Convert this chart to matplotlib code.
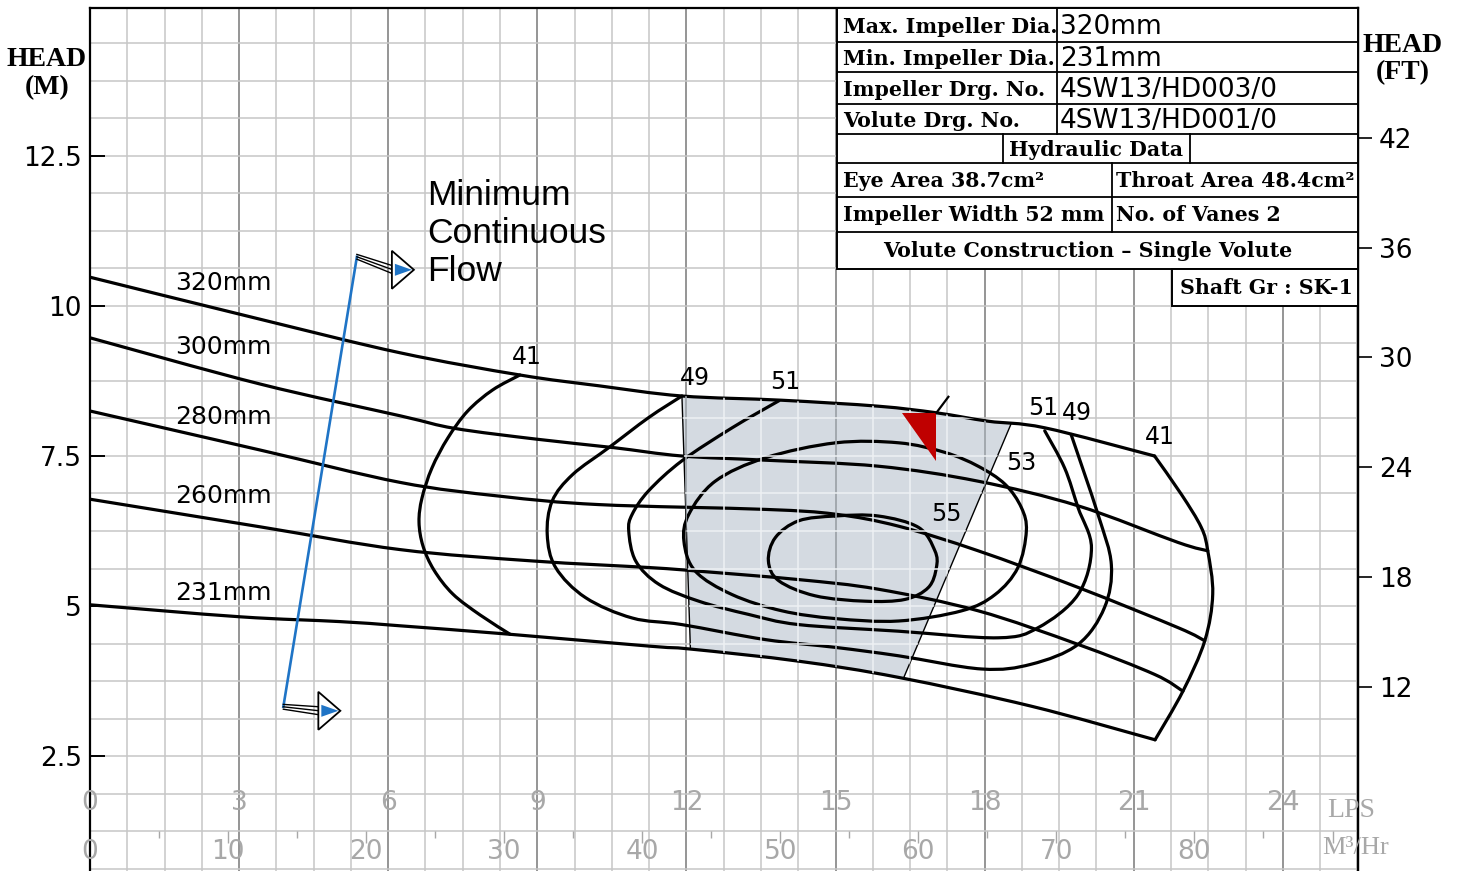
import numpy as np
import matplotlib.pyplot as plt
from matplotlib.path import Path
from matplotlib.patches import PathPatch, Polygon, Rectangle
from matplotlib.lines import Line2D

# impeller curves, flow in LPS vs head in m
q320 = [0, 3.42, 6.24, 8.65, 10.24, 11.91, 13.91, 15.86, 17.03, 18.07, 19.21, 21.42]
h320 = [10.48, 9.78, 9.22, 8.85, 8.67, 8.5, 8.43, 8.33, 8.22, 8.08, 7.97, 7.5]
q300 = [0, 3.42, 6.24, 7.34, 8.99, 10.53, 11.91, 13.59, 15.86, 17.87, 19.88, 21.89, 22.49]
h300 = [9.47, 8.7, 8.17, 7.96, 7.78, 7.64, 7.5, 7.43, 7.33, 7.08, 6.67, 6.06, 5.92]
q280 = [0, 3.42, 6.24, 8.25, 10.24, 13.59, 15.0, 16.27, 17.87, 19.88, 21.89, 22.43]
h280 = [8.25, 7.6, 7.06, 6.83, 6.69, 6.61, 6.53, 6.33, 5.92, 5.31, 4.64, 4.42]
q260 = [0, 3.42, 6.24, 8.92, 11.27, 12.25, 14.26, 15.86, 17.87, 19.88, 21.42, 21.99]
h260 = [6.78, 6.32, 5.94, 5.75, 5.64, 5.58, 5.44, 5.28, 4.92, 4.36, 3.86, 3.58]
q231 = [0, 3.02, 5.03, 6.24, 8.43, 11.27, 12.11, 14.26, 16.27, 18.94, 21.43]
h231 = [5.02, 4.82, 4.74, 4.67, 4.53, 4.33, 4.28, 4.08, 3.81, 3.33, 2.77]
impeller_names = ["320mm", "300mm", "280mm", "260mm", "231mm"]
impeller_label_h = [10.38, 9.32, 8.15, 6.83, 5.22]

# iso-efficiency lines (%)
e41l_q = [8.65, 8.1, 7.6, 7.2, 6.88, 6.68, 6.62, 6.7, 6.92, 7.3, 7.85, 8.45]
e41l_h = [8.85, 8.6, 8.25, 7.8, 7.3, 6.8, 6.4, 6.0, 5.6, 5.2, 4.85, 4.53]
e41r_q = [21.42, 21.96, 22.36, 22.49, 22.59, 22.43, 21.99, 21.43]
e41r_h = [7.5, 6.86, 6.31, 5.92, 5.2, 4.42, 3.58, 2.77]
e49_q = [11.91, 11.24, 10.44, 9.71, 9.3, 9.2, 9.37, 9.97, 10.91, 11.91, 13.59, 15.0,
         16.27, 17.94, 18.94, 19.88, 20.41, 20.55, 20.28, 19.74]
e49_h = [8.5, 8.14, 7.64, 7.19, 6.75, 6.19, 5.64, 5.14, 4.8, 4.69, 4.44, 4.31,
         4.17, 3.95, 4.03, 4.36, 4.97, 5.69, 6.53, 7.86]
e51_q = [13.86, 12.92, 11.91, 11.24, 10.91, 10.84, 10.98, 11.45, 12.25, 13.25, 14.26,
         16.27, 18.27, 19.08, 19.88, 20.15, 19.88, 19.61, 19.21]
e51_h = [8.42, 7.97, 7.42, 6.92, 6.53, 6.25, 5.75, 5.36, 5.08, 4.86, 4.69,
         4.58, 4.47, 4.64, 5.19, 5.97, 6.64, 7.3, 7.92]
e53_q = [15.01, 13.59, 12.58, 12.05, 11.95, 12.18, 12.92, 13.92, 15.0, 16.27, 17.54,
         18.21, 18.67, 18.84, 18.74, 18.41, 17.87, 17.2, 16.27, 15.01]
e53_h = [7.72, 7.47, 7.08, 6.53, 6.08, 5.58, 5.19, 4.92, 4.79, 4.75, 4.92,
         5.19, 5.64, 6.25, 6.64, 7.03, 7.33, 7.56, 7.72, 7.72]
e55_q = [15.0, 14.26, 13.79, 13.65, 13.86, 14.59, 15.6, 16.4, 16.87, 17.03, 17.0, 16.67, 15.86, 15.0]
e55_h = [6.5, 6.42, 6.14, 5.75, 5.42, 5.17, 5.08, 5.11, 5.31, 5.64, 5.92, 6.31, 6.5, 6.5]
eff_labels = ["41", "49", "51", "51", "49", "41", "53", "55"]
eff_label_q = [8.79, 12.17, 13.98, 19.17, 19.86, 21.53, 18.73, 17.24]
eff_label_h = [9.15, 8.8, 8.73, 8.3, 8.22, 7.82, 7.38, 6.53]

# preferred operating region corners
shade_q = [11.91, 12.08, 16.37, 18.54]
shade_h = [8.5, 4.3, 3.8, 8.05]
# duty point marker
duty_q = [16.33, 17.03, 17.03]
duty_h = [8.22, 8.22, 7.42]
# minimum continuous flow line
mcf_q = [5.37, 3.89]
mcf_h = [10.82, 3.32]

head_m_ticks = [2.5, 5, 7.5, 10, 12.5]
head_ft_ticks = [12, 18, 24, 30, 36, 42]
lps_labels = [0, 3, 6, 9, 12, 15, 18, 21, 24]
m3h_labels = [0, 10, 20, 30, 40, 50, 60, 70, 80]

table_rows = [("Max. Impeller Dia.", "320mm"),
              ("Min. Impeller Dia.", "231mm"),
              ("Impeller Drg. No.", "4SW13/HD003/0"),
              ("Volute Drg. No.", "4SW13/HD001/0")]

W, H = 1457, 871
PXX, PXY = 49.7, 60.0   # pixels per LPS / per metre

fig = plt.figure(figsize=(W / 100, H / 100), dpi=100)
ax = fig.add_axes([90 / W, 0, 1268 / W, 863 / H])
ax.set_xlim(0, 1268 / PXX)
ax.set_ylim(35 / PXY, 898 / PXY)


def smooth(q, h, closed=False):
    pts = np.column_stack([q, h]).astype(float)
    if closed:
        pts = pts[:-1]
        n = len(pts)
        get = lambda i: pts[i % n]
        segs = n
    else:
        n = len(pts)
        get = lambda i: pts[min(max(i, 0), n - 1)]
        segs = n - 1
    verts, codes = [pts[0]], [Path.MOVETO]
    for i in range(segs):
        p0, p1, p2, p3 = get(i - 1), get(i), get(i + 1), get(i + 2)
        verts += [p1 + (p2 - p0) / 6, p2 - (p3 - p1) / 6, p2]
        codes += [Path.CURVE4] * 3
    return Path(verts, codes)


def curve(q, h, closed=False, lw=2.3):
    ax.add_patch(PathPatch(smooth(q, h, closed), fill=False, lw=lw,
                           ec="black", zorder=3, capstyle="round", joinstyle="round"))


# grid
ax.set_xticks(np.arange(0, 25.6, 3))
ax.set_xticks(np.arange(0, 25.6, 0.75), minor=True)
ax.set_yticks(head_m_ticks)
ax.set_yticks(np.arange(0.625, 15, 0.625), minor=True)
ax.xaxis.grid(True, which="minor", color="#c6c6c6", lw=1.1)
ax.xaxis.grid(True, which="major", color="#8c8c8c", lw=1.3)
ax.yaxis.grid(True, which="both", color="#c6c6c6", lw=1.1)
ax.set_axisbelow(True)
ax.tick_params(axis="x", which="both", length=0, labelbottom=False)
ax.tick_params(axis="y", which="minor", length=0)
ax.tick_params(axis="y", which="major", direction="in", length=11, width=1.4,
               labelsize=19, pad=6, right=False)
ax.set_yticklabels(["2.5", "5", "7.5", "10", "12.5"])
for s in ["left", "right", "top"]:
    ax.spines[s].set_linewidth(1.6)
ax.spines["bottom"].set_visible(False)

sec = ax.secondary_yaxis("right", functions=(lambda m: m / 0.3048, lambda f: f * 0.3048))
sec.set_yticks(head_ft_ticks)
sec.tick_params(direction="out", length=10, width=1.2, labelsize=19, pad=5)
sec.spines["right"].set_linewidth(1.6)

# shaded region
top = [(q, h) for q, h in zip(q320, h320) if shade_q[0] < q < shade_q[3]]
bot = [(q, h) for q, h in zip(q231, h231) if shade_q[1] < q < shade_q[2]]
poly = ([(shade_q[0], shade_h[0]), (shade_q[1], shade_h[1])] + bot +
        [(shade_q[2], shade_h[2]), (shade_q[3], shade_h[3])] + top[::-1])
shade = Polygon(poly, closed=True, fc="#d4dae1", ec="none", zorder=2)
ax.add_patch(shade)
ax.plot(shade_q[:2], shade_h[:2], color="black", lw=1.0, zorder=3)
ax.plot(shade_q[2:], shade_h[2:], color="black", lw=1.0, zorder=3)

# impeller curves
for q, h in [(q320, h320), (q300, h300), (q280, h280), (q260, h260), (q231, h231)]:
    curve(q, h)
for name, y in zip(impeller_names, impeller_label_h):
    ax.text(2.68, y, name, fontsize=18, ha="center", va="center", zorder=4)

# efficiency lines
curve(e41l_q, e41l_h)
curve(e41r_q, e41r_h)
curve(e49_q, e49_h)
curve(e51_q, e51_h)
curve(e53_q, e53_h, closed=True)
curve(e55_q, e55_h, closed=True)
for t, q, h in zip(eff_labels, eff_label_q, eff_label_h):
    ax.text(q, h, t, fontsize=17, ha="center", va="center", zorder=4)

# light grid lines over the shaded region (they break the curves there)
gx = np.arange(0, 25.6, 0.75)
gl = ax.vlines(gx[(gx % 3) != 0], 0, 15, color="#eef1f4", lw=1.1, zorder=3.5)
gl.set_clip_path(shade)
gm = ax.vlines(np.arange(0, 25.6, 3), 0, 15, color="#9aa0a6", lw=1.2, zorder=3.5)
gm.set_clip_path(shade)
gh = ax.hlines(np.arange(0.625, 15, 0.625), 0, 26, color="#eef1f4", lw=1.1, zorder=3.5)
gh.set_clip_path(shade)

# duty point
ax.add_patch(Polygon(list(zip(duty_q, duty_h)), closed=True, fc="#bf0000", ec="none", zorder=5))
ax.plot([duty_q[1], duty_q[1] + 12 / PXX], [duty_h[1], duty_h[1] + 16 / PXY],
        color="black", lw=1.6, zorder=5)

# minimum continuous flow
ax.plot(mcf_q, mcf_h, color="#1f74c6", lw=1.9, zorder=5)


def mcf_arrow(x, y, drop):
    X = lambda px: x + px / PXX
    Y = lambda py: y - py / PXY
    for off in (-4, 0, 4):
        ax.plot([X(0), X(36)], [Y(off * 0.6), Y(drop + off)], color="black", lw=1.0, zorder=6)
    ax.add_patch(Polygon([(X(35), Y(drop - 19)), (X(57), Y(drop)), (X(35), Y(drop + 19))],
                         closed=True, fc="white", ec="black", lw=1.3, zorder=6))
    ax.add_patch(Polygon([(X(38), Y(drop - 6)), (X(55), Y(drop)), (X(38), Y(drop + 6))],
                         closed=True, fc="#1f74c6", ec="none", zorder=7))


mcf_arrow(mcf_q[0], mcf_h[0], 13)
mcf_arrow(mcf_q[1], mcf_h[1], 4)
ax.text(6.78, 12.12, "Minimum\nContinuous\nFlow", fontsize=25.5, family="Liberation Sans",
        ha="left", va="top", linespacing=1.2, zorder=6)

# flow scales inside the chart
gray = "#a8a8a8"
for v in lps_labels:
    ax.text(v, 1.72, str(v), fontsize=19, color=gray, ha="center", va="center")
for v in m3h_labels:
    ax.text(v / 3.6, 0.9, str(v), fontsize=19, color=gray, ha="center", va="center")
t5 = np.arange(5, 91, 5)
ax.vlines(t5[t5 % 10 != 0] / 3.6, 1.25 - 7 / PXY, 1.25, color=gray, lw=1.0)
ax.vlines(t5[t5 % 10 == 0] / 3.6, 1.25 - 12 / PXY, 1.25, color=gray, lw=1.0)
ax.text(25.37, 1.6, "LPS", fontsize=20, family="Liberation Serif", color=gray,
        ha="center", va="center")
ax.text(25.47, 0.97, "M³/Hr", fontsize=19, family="Liberation Serif", color=gray,
        ha="center", va="center")

# axis titles
hs = dict(family="Liberation Serif", weight="bold", fontsize=20, ha="center", va="center")
fig.text(47 / W, 1 - 60 / H, "HEAD", **hs)
fig.text(47 / W, 1 - 88 / H, "(M)", **hs)
fig.text(1403 / W, 1 - 46 / H, "HEAD", **hs)
fig.text(1403 / W, 1 - 73 / H, "(FT)", **hs)


# data table
def fx(x):
    return x / W


def fy(y):
    return 1 - y / H


def box(x0, y0, x1, y1, lw=1.4):
    fig.add_artist(Rectangle((fx(x0), fy(y1)), fx(x1) - fx(x0), fy(y0) - fy(y1),
                             transform=fig.transFigure, fc="white", ec="black", lw=lw, zorder=10))


def hline(y, x0, x1):
    fig.add_artist(Line2D([fx(x0), fx(x1)], [fy(y), fy(y)], transform=fig.transFigure,
                          color="black", lw=1.3, zorder=11))


def vline(x, y0, y1):
    fig.add_artist(Line2D([fx(x), fx(x)], [fy(y0), fy(y1)], transform=fig.transFigure,
                          color="black", lw=1.3, zorder=11))


rows_y = [8, 42, 72, 104, 134, 163, 197, 232, 269]
box(837, 8, 1358, 269)
box(1172, 269, 1358, 306)
for y in rows_y[1:-1]:
    hline(y, 837, 1358)
vline(1057, 8, 134)
vline(1003, 134, 163)
vline(1190, 134, 163)
vline(1112, 163, 232)

ts = dict(family="DejaVu Serif", weight="bold", fontsize=14.8, va="center", zorder=12)
vs = dict(family="DejaVu Sans", fontsize=19, va="center", zorder=12)
for i, (lab, val) in enumerate(table_rows):
    yc = (rows_y[i] + rows_y[i + 1]) / 2 + 2
    fig.text(fx(843), fy(yc), lab, **ts)
    fig.text(fx(1060), fy(yc), val, **vs)
fig.text(fx(1096), fy(150), "Hydraulic Data", ha="center", **ts)
fig.text(fx(843), fy(181), "Eye Area 38.7cm²", **ts)
fig.text(fx(1116), fy(181), "Throat Area 48.4cm²", **ts)
fig.text(fx(843), fy(215), "Impeller Width 52 mm", **ts)
fig.text(fx(1116), fy(215), "No. of Vanes 2", **ts)
fig.text(fx(1088), fy(251), "Volute Construction – Single Volute", ha="center", **ts)
fig.text(fx(1266), fy(288), "Shaft Gr : SK-1", ha="center", **ts)

fig.savefig("out.png", dpi=100)
